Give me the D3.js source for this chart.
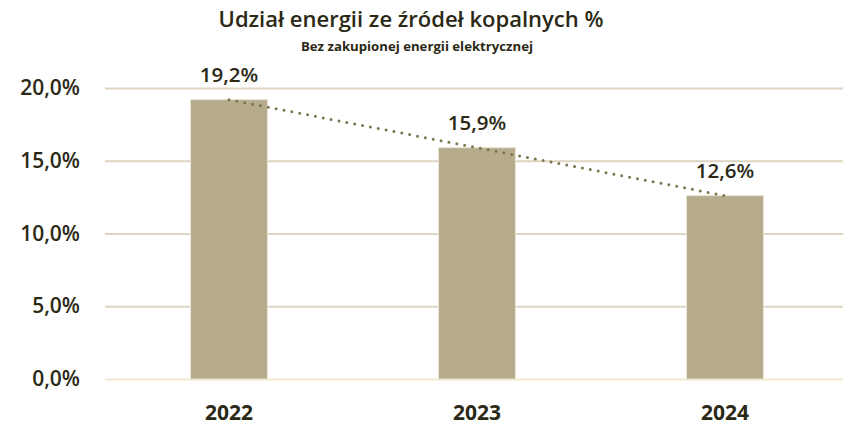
<!DOCTYPE html>
<html>
<head>
<meta charset="utf-8">
<script src="https://cdn.jsdelivr.net/npm/d3@7"></script>
<style>
  body { margin: 0; background: #fff; }
  svg text { font-family: "Open Sans", sans-serif; fill: #2b2915; }
</style>
</head>
<body>
<div id="vis"></div>
<script>
// data
const years = ["2022", "2023", "2024"];
const shares = [19.2, 15.9, 12.6];
const yTicks = [0, 5, 10, 15, 20];

const width = 843, height = 426;
const margin = { top: 88, right: -6, bottom: 47, left: 105 };

const fmt = v => v.toFixed(1).replace(".", ",") + "%";

const svg = d3.select("#vis").append("svg")
  .attr("width", width)
  .attr("height", height);

const x = d3.scaleBand()
  .domain(years)
  .range([margin.left, width - margin.right])
  .paddingInner(0.69)
  .paddingOuter(0.345);

const y = d3.scaleLinear()
  .domain([0, 20])
  .range([height - margin.bottom, margin.top]);

// title
svg.append("text")
  .attr("x", 411).attr("y", 27)
  .attr("text-anchor", "middle")
  .style("font-size", "22px").style("font-weight", 600)
  .text("Udział energii ze źródeł kopalnych %");
svg.append("text")
  .attr("x", 417).attr("y", 51)
  .attr("text-anchor", "middle")
  .style("font-size", "13.2px").style("font-weight", 700)
  .text("Bez zakupionej energii elektrycznej");

// y axis + grid
const yAxis = d3.axisLeft(y)
  .tickValues(yTicks)
  .tickSize(-(width - margin.left))
  .tickPadding(25)
  .tickFormat(fmt);

const gy = svg.append("g")
  .attr("transform", `translate(${margin.left},0)`)
  .call(yAxis);
gy.select(".domain").remove();
gy.selectAll(".tick line")
  .attr("stroke", d => d === 0 ? "#f1e9cf" : "#ddd5bf")
  .attr("stroke-width", 2);
gy.selectAll(".tick text")
  .style("font-size", "21px").style("font-weight", 600)
  .attr("fill", "#2b2915");

// bars
svg.selectAll("rect.bar")
  .data(years)
  .join("rect")
  .attr("class", "bar")
  .attr("x", d => x(d))
  .attr("width", x.bandwidth())
  .attr("y", (d, i) => y(shares[i]))
  .attr("height", (d, i) => y(0) - y(shares[i]))
  .attr("fill", "#b6ac8c")
  .attr("stroke", "#e9e4d4")
  .attr("stroke-width", 1);

// value labels
svg.selectAll("text.label")
  .data(years)
  .join("text")
  .attr("class", "label")
  .attr("x", d => x(d) + x.bandwidth() / 2)
  .attr("y", (d, i) => y(shares[i]) - 18)
  .attr("text-anchor", "middle")
  .style("font-size", "20.5px").style("font-weight", 600)
  .text((d, i) => fmt(shares[i]));

// trend line (linear fit)
const n = shares.length;
const xs = d3.range(n);
const mx = d3.mean(xs), my = d3.mean(shares);
const slope = d3.sum(xs, i => (i - mx) * (shares[i] - my)) / d3.sum(xs, i => (i - mx) ** 2);
const icpt = my - slope * mx;
const line = d3.line()
  .x(i => x(years[i]) + x.bandwidth() / 2)
  .y(i => y(icpt + slope * i));
svg.append("path")
  .attr("d", line([0, n - 1]))
  .attr("fill", "none")
  .attr("stroke", "#7c754f")
  .attr("stroke-width", 3)
  .attr("stroke-linecap", "round")
  .attr("stroke-dasharray", "0 8");

// x labels
svg.selectAll("text.xlab")
  .data(years)
  .join("text")
  .attr("class", "xlab")
  .attr("x", d => x(d) + x.bandwidth() / 2)
  .attr("y", 420)
  .attr("text-anchor", "middle")
  .style("font-size", "21px").style("font-weight", 700)
  .text(d => d);
</script>
</body>
</html>
